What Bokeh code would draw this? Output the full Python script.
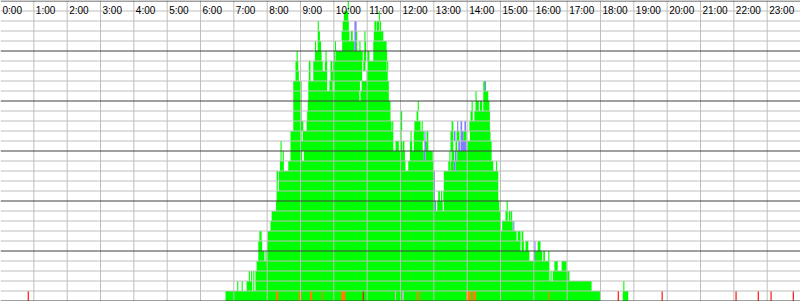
from bokeh.plotting import figure
from bokeh.models import Range1d, ColumnDataSource
from bokeh.core.properties import value
from bokeh.embed import file_html
from bokeh.resources import INLINE

# ---------------- data (minutes of day, row level) ----------------
HOUR_LABELS = [f"{h}:00" for h in range(24)]
HOUR_MINUTES = [h * 60 for h in range(24)]

# occupied (green) intervals per row level, in minutes since 0:00
GREEN_ROWS = {
    30: [(625, 627)],
    29: [(618, 626), (681, 683)],
    28: [(571, 573), (616, 627), (673, 676), (677, 682), (683, 685)],
    27: [(571, 575), (614, 628), (631, 634), (640, 642), (655, 657), (672, 689)],
    26: [(566, 568), (571, 577), (602, 604), (615, 637), (640, 642), (646, 648),
         (655, 658), (671, 695)],
    25: [(533, 535), (566, 578), (585, 587), (600, 602), (603, 652), (654, 658),
         (660, 664), (671, 696)],
    24: [(531, 536), (555, 558), (563, 580), (584, 588), (594, 597), (598, 651),
         (653, 657), (661, 695), (696, 698)],
    23: [(531, 537), (555, 558), (563, 588), (594, 651), (659, 697)],
    22: [(527, 542), (554, 588), (592, 598), (601, 647), (650, 699), (869, 872)],
    21: [(527, 542), (554, 646), (648, 699), (855, 857), (869, 878)],
    20: [(527, 542), (553, 702), (751, 753), (848, 850), (855, 861), (863, 867),
         (869, 880)],
    19: [(527, 542), (552, 702), (719, 723), (749, 752), (846, 850), (853, 881)],
    18: [(527, 545), (551, 704), (705, 707), (719, 723), (745, 756), (758, 760),
         (812, 815), (844, 881)],
    17: [(522, 542), (544, 707), (719, 722), (738, 740), (744, 762), (767, 770),
         (810, 815), (821, 826), (833, 839), (845, 882)],
    16: [(504, 506), (522, 707), (711, 717), (719, 723), (724, 727), (737, 741),
         (744, 760), (766, 770), (810, 815), (819, 822), (840, 884)],
    15: [(504, 506), (508, 510), (522, 543), (546, 728), (737, 762), (765, 778),
         (808, 810), (812, 817), (822, 884)],
    14: [(503, 510), (518, 729), (734, 779), (806, 809), (810, 816), (819, 887),
         (892, 894)],
    13: [(497, 500), (501, 780), (798, 896)],
    12: [(497, 499), (501, 780), (798, 896)],
    11: [(497, 780), (788, 791), (793, 795), (797, 896)],
    10: [(496, 782), (786, 796), (798, 898), (911, 913)],
    9: [(488, 900), (909, 913), (915, 918), (919, 921)],
    8: [(486, 901), (903, 922)],
    7: [(466, 470), (481, 929), (931, 936), (938, 941)],
    6: [(464, 471), (480, 936), (938, 942), (945, 950), (967, 972)],
    5: [(464, 475), (477, 479), (480, 952), (962, 975), (977, 980), (986, 988)],
    4: [(461, 988), (997, 1003), (1010, 1019)],
    3: [(447, 449), (451, 453), (455, 457), (459, 988), (990, 992), (994, 1024)],
    2: [(426, 428), (434, 436), (443, 453), (455, 457), (459, 1064), (1121, 1123)],
    1: [(405, 1079), (1120, 1130)],
}

BLUE_ROWS = {
    28: [(637, 641)],
    27: [(637, 640)],
    26: [(637, 640)],
    22: [(872, 874)],
    18: [(822, 824), (828, 831), (835, 838)],
    17: [(763, 765), (816, 819), (828, 833)],
    16: [(763, 766), (824, 827), (828, 839)],
    15: [(762, 765), (818, 821)],
    14: [(816, 819)],
    13: [(780, 782)],
    12: [(780, 782)],
    11: [(780, 782)],
    10: [(782, 784)],
    8: [(923, 925)],
    6: [(961, 963)],
    5: [(960, 962)],
}

# status marks in the bottom row
ORANGE_BOTTOM = [(496, 500), (537, 542), (557, 561), (578, 580), (613, 621),
                 (748, 750), (754, 756), (838, 847), (850, 856), (986, 988)]
RED_BOTTOM = [(49, 51), (652, 654), (1111, 1113), (1190, 1192), (1323, 1325),
              (1363, 1365), (1386, 1388), (1426, 1428)]
GRAY_BOTTOM = [(710, 712), (723, 726)]

N_ROWS = 30

# ---------------- colours ----------------
GREEN = "#00FF00"
BLUE = "#8080FF"
ORANGE = "#FF8000"
RED = "#FF0000"
SILVER = "#C0C0C0"
GRID = "#BEBEBE"
DARK = "#404040"


def rows_to_source(rows):
    left, right, bottom, top = [], [], [], []
    for level, segs in rows.items():
        for a, b in segs:
            left.append(a)
            right.append(b)
            bottom.append(level - 1)
            top.append(level)
    return ColumnDataSource(dict(left=left, right=right, bottom=bottom, top=top))


p = figure(width=800, height=301, output_backend="svg", toolbar_location=None,
           x_range=Range1d(0, 1440), y_range=Range1d(-0.05, N_ROWS + 0.05),
           min_border=0)
p.axis.visible = False
p.xgrid.visible = False
p.ygrid.visible = False
p.outline_line_color = None
p.background_fill_color = "white"
p.border_fill_color = "white"

for rows, col in [(GREEN_ROWS, GREEN), (BLUE_ROWS, BLUE),
                  ({1: ORANGE_BOTTOM}, ORANGE), ({1: RED_BOTTOM}, RED),
                  ({1: GRAY_BOTTOM}, SILVER)]:
    p.quad(left="left", right="right", bottom="bottom", top="top",
           source=rows_to_source(rows), fill_color=col, line_color=None)

# grid lines drawn over the bars
light_levels = [v for v in range(1, N_ROWS) if v % 5 != 0]
dark_levels = [v for v in range(0, N_ROWS + 1) if v % 5 == 0]
p.segment(x0=[0] * len(light_levels), x1=[1440] * len(light_levels),
          y0=light_levels, y1=light_levels, line_color=GRID, line_width=1)
vx = HOUR_MINUTES[1:]
p.segment(x0=vx, x1=vx, y0=[-0.05] * len(vx), y1=[N_ROWS + 0.05] * len(vx),
          line_color=GRID, line_width=1)
p.segment(x0=[0] * len(dark_levels), x1=[1440] * len(dark_levels),
          y0=dark_levels, y1=dark_levels, line_color=DARK, line_width=1)

p.text(x=HOUR_MINUTES, y=[N_ROWS - 0.9] * 24, text=HOUR_LABELS,
       x_offset=2, text_baseline="alphabetic", text_align="left",
       text_font=value("Liberation Sans"), text_font_size="10px",
       text_color="black")

open("out.html", "w").write(file_html(p, INLINE))
